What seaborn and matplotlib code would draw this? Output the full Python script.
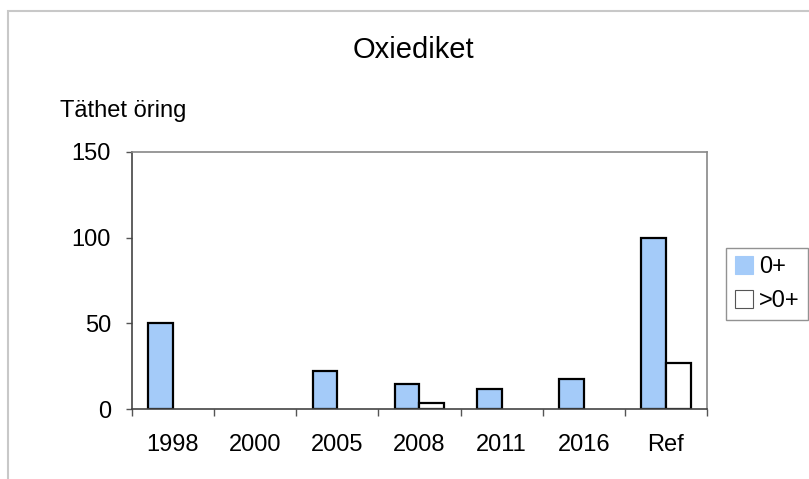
import pandas as pd
import matplotlib.pyplot as plt
import seaborn as sns
from matplotlib.patches import Rectangle

# Data
years = ['1998', '2000', '2005', '2008', '2011', '2016', 'Ref']
age0 = [50, 0, 22, 14.5, 11.5, 17.5, 100]
age_older = [0, 0, 0, 3.5, 0, 0, 27]
groups = ['0+', '>0+']

df = pd.DataFrame({
    'year': years * 2,
    'density': age0 + age_older,
    'group': [groups[0]] * len(years) + [groups[1]] * len(years),
})

sns.set_style('white')
plt.rcParams['font.family'] = ['Liberation Sans', 'DejaVu Sans']
plt.rcParams['text.color'] = 'black'
plt.rcParams['xtick.labelcolor'] = 'black'
plt.rcParams['ytick.labelcolor'] = 'black'

fig = plt.figure(figsize=(8.09, 4.79), dpi=100)
ax = fig.add_axes([0.163, 0.146, 0.711, 0.537])

sns.barplot(data=df, x='year', y='density', hue='group', order=years,
            hue_order=groups, palette=['#a4cbf9', 'white'], width=0.6,
            edgecolor='black', linewidth=1.6, saturation=1, ax=ax)

# hide outlines of empty bars
for p in ax.patches:
    if p.get_height() == 0:
        p.set_linewidth(0)

ax.set_ylim(0, 150)
ax.set_xlim(-0.5, len(years) - 0.5)
ax.set_yticks([0, 50, 100, 150])
ax.set_xlabel('')
ax.set_ylabel('')
ax.tick_params(axis='y', labelsize=17, length=4, width=1, color='#555555',
               left=True, pad=11, labelcolor='black')
ax.tick_params(axis='x', which='major', labelsize=17, length=0, pad=18,
               labelcolor='black')
ax.set_xticks([i + 0.5 for i in range(-1, len(years))], minor=True)
ax.tick_params(axis='x', which='minor', length=5, width=1, color='#555555',
               bottom=True)

for side in ['left', 'bottom']:
    ax.spines[side].set_color('#444444')
    ax.spines[side].set_linewidth(1.2)
for side in ['top', 'right']:
    ax.spines[side].set_color('#888888')
    ax.spines[side].set_linewidth(1.2)

leg = ax.legend(loc='upper left', bbox_to_anchor=(0.898, 0.483),
                bbox_transform=fig.transFigure, fontsize=17, frameon=True,
                fancybox=False, edgecolor='#777777', handlelength=0.78,
                handleheight=0.78, handletextpad=0.25, borderpad=0.35,
                labelspacing=0.5, borderaxespad=0)
leg.get_frame().set_linewidth(1)
leg.legend_handles[0].set_edgecolor('#a4cbf9')
leg.legend_handles[1].set_edgecolor('#555555')
for h in leg.legend_handles:
    h.set_linewidth(0.8)
for t in leg.get_texts():
    t.set_color('black')

fig.text(0.511, 0.878, 'Oxiediket', ha='center', va='baseline', fontsize=21,
         color='black')
fig.text(0.074, 0.756, 'Täthet öring', ha='left', va='baseline', fontsize=17,
         color='black')

# outer chart frame, partly cut by the image edge
fig.add_artist(Rectangle((0.0099, -0.1), 1.5, 1.077, transform=fig.transFigure,
                         fill=False, edgecolor='#c8c8c8', linewidth=1.5))

fig.savefig('out.png', dpi=100)
